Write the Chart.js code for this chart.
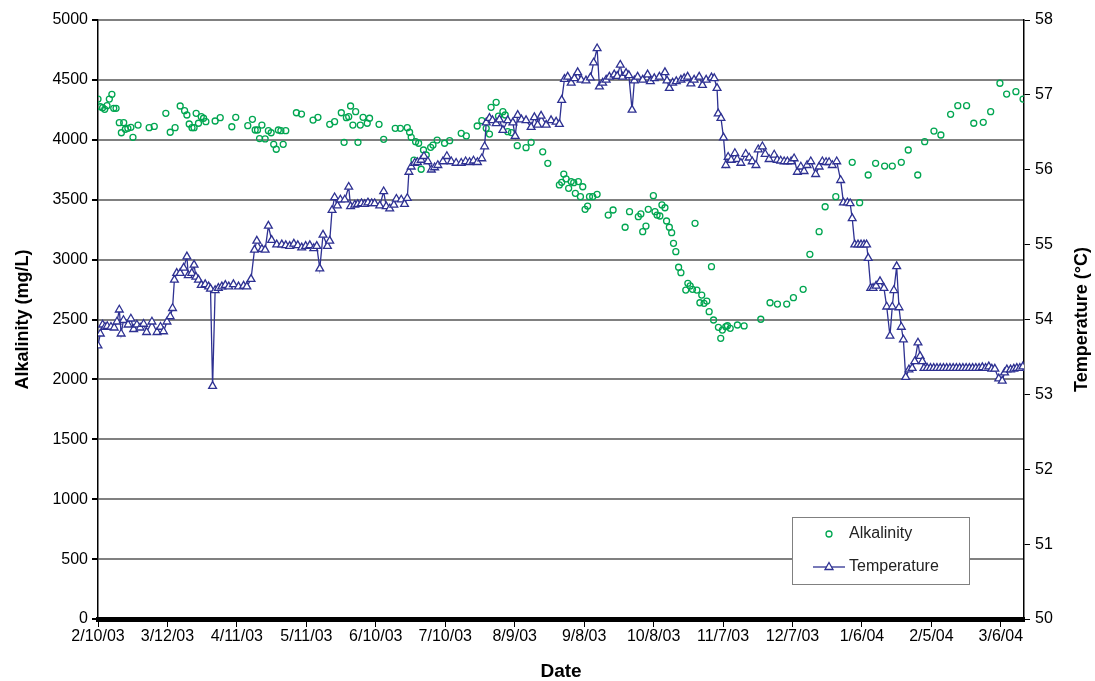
<!DOCTYPE html>
<html>
<head>
<meta charset="utf-8">
<script src="https://cdn.jsdelivr.net/npm/chart.js@4.4.1/dist/chart.umd.min.js"></script>
<style>
  body { margin: 0; background: #fff; }
</style>
</head>
<body>
<canvas id="chart" width="1095" height="681"></canvas>
<script>
// days counted from 2/10/03
var startDate = new Date(2003, 1, 10);

var alkDays = [
  0, 1, 2, 2.9, 3.9, 4.9, 6, 6.8, 7.8, 9.2,
  10.1, 11.1, 11.8, 12.9, 14.2, 15.1, 17.3, 22.1, 24.3, 29.3,
  31.2, 33.3, 35.5, 37.4, 38.4, 39.4, 40.6, 41.5, 42.4, 43.4,
  44.6, 45.6, 46.6, 50.6, 52.8, 57.8, 59.5, 64.7, 66.7, 67.9,
  68.9, 69.8, 70.8, 72.2, 73.6, 74.8, 75.9, 77, 77.9, 79,
  80, 81.1, 85.7, 87.9, 92.9, 95, 100.1, 102.2, 105.1, 106.3,
  107.3, 108.3, 109.1, 110.1, 111.3, 112.3, 113.3, 114.5, 116.3, 117.3,
  121.4, 123.4, 128.4, 130.6, 133.6, 134.6, 135.3, 136.5, 137.2, 138.5,
  139.6, 140.6, 141.8, 143.7, 144.7, 146.5, 149.7, 151.9, 156.9, 159.1,
  163.8, 165.8, 167.7, 169.1, 169.8, 172, 173, 174.9, 175.9, 177,
  178.6, 181.1, 184.9, 187.1, 192.1, 194.3, 199.3, 200.3, 201.2, 202.2,
  203.3, 204.4, 205.5, 206.2, 207.5, 208.4, 209.4, 210.4, 211.5, 212.3,
  213.7, 215.6, 220.4, 222.5, 227.7, 229.6, 233.4, 234.5, 235.3, 236.7,
  237.7, 239.9, 240.6, 241.5, 242.7, 243.6, 244.9, 245.6, 246.8, 247.8,
  248.6, 249.6, 250.8, 251.8, 253.9, 254.8, 255.8, 256.8, 257.9, 258.7,
  260, 260.8, 261.8, 263, 264, 265, 265.9, 268, 269, 269.7,
  271.2, 271.9, 273.1, 276.2, 279.1, 286.3, 290.3, 293.5, 297.5, 300.4,
  304.6, 307.5, 311.5, 314.1, 318.7, 325.8, 329, 332.7, 335.9, 339.8,
  343.1, 347, 350, 354.1, 357.1, 361.1, 364.1, 368.3, 371.4, 375.2,
  378.3, 382.4, 385.6, 389.6, 392.5, 396.5, 399.6
];
var alkValues = [
  4340, 4276, 4268, 4254, 4285, 4340, 4380, 4263, 4263, 4143,
  4059, 4143, 4088, 4096, 4104, 4021, 4123, 4101, 4112, 4221,
  4063, 4101, 4282, 4243, 4207, 4132, 4101, 4101, 4221, 4138,
  4193, 4180, 4151, 4157, 4185, 4109, 4188, 4118, 4171, 4082,
  4082, 4010, 4123, 4007, 4076, 4059, 3962, 3921, 4082, 4076,
  3962, 4076, 4226, 4215, 4165, 4188, 4129, 4151, 4226, 3979,
  4185, 4193, 4282, 4123, 4235, 3979, 4123, 4188, 4138, 4180,
  4129, 4004, 4096, 4096, 4101, 4063, 4021, 3831, 3984, 3971,
  3754, 3915, 3873, 3937, 3956, 3998, 3971, 3993, 4054, 4032,
  4115, 4160, 4096, 4048, 4271, 4313, 4198, 4235, 4207, 4068,
  4060, 3951, 3934, 3979, 3900, 3804, 3623, 3645, 3714, 3673,
  3595, 3651, 3642, 3553, 3651, 3525, 3608, 3420, 3447, 3525,
  3525, 3545, 3372, 3414, 3270, 3400, 3358, 3381, 3233, 3280,
  3420, 3534, 3400, 3372, 3364, 3456, 3433, 3322, 3270, 3225,
  3136, 3066, 2936, 2891, 2746, 2802, 2780, 2752, 3303, 2746,
  2640, 2704, 2635, 2654, 2565, 2941, 2496, 2435, 2343, 2412,
  2440, 2448, 2426, 2454, 2446, 2502, 2640, 2629, 2629, 2682,
  2752, 3044, 3233, 3441, 3525, 3812, 3475, 3706, 3804, 3781,
  3781, 3812, 3915, 3706, 3984, 4073, 4040, 4213, 4285, 4285,
  4138, 4146, 4235, 4472, 4382, 4402, 4340
];

var tempDays = [
  0, 1, 2, 3, 4, 5.6, 7, 8.2, 9.2, 10,
  11, 13, 14.2, 15.4, 16.8, 18.2, 19.7, 21, 23.3, 25.5,
  27, 28.3, 29.8, 31.2, 32.2, 33, 34, 35.5, 37, 38.4,
  39, 40.5, 41.5, 42.3, 43.4, 44.6, 46.3, 47.8, 48.6, 49.5,
  50.6, 52, 53.5, 55, 56.5, 58.5, 60.7, 62.9, 64.3, 66.1,
  67.6, 68.6, 70.8, 72.2, 73.6, 75, 77.2, 79.4, 81.1, 82.8,
  84.6, 86.3, 88, 89.7, 91.5, 93.2, 94.5, 95.8, 97.2, 99.1,
  100.1, 101.1, 102.2, 103.4, 104.7, 106.6, 108.3, 109.1, 110.9, 112.2,
  113.8, 115.2, 116.6, 118.2, 119.5, 121.7, 123.4, 124.5, 126, 127.8,
  128.9, 131, 132.4, 133.6, 134.3, 135.3, 136.8, 138, 139.6, 140.8,
  142.5, 144, 145.4, 146.8, 149, 150.7, 152.6, 154.7, 156.9, 158.8,
  160.5, 162.2, 163.9, 165.8, 167, 167.7, 169.1, 170.4, 172, 173.4,
  174.9, 177, 179.2, 180.2, 181.3, 182.9, 184.9, 187.1, 188.5, 189.9,
  191.4, 193.6, 195.7, 197.9, 199.3, 200.3, 201.5, 202.9, 204.4, 205.8,
  207.2, 208.7, 210.8, 212.7, 214.1, 215.6, 216.6, 218, 219.5, 220.9,
  223, 224.3, 225.6, 226.6, 228.1, 229.3, 230.7, 231.7, 233.1, 235.3,
  237.4, 238.6, 240.3, 242.5, 244.9, 245.8, 246.8, 248.2, 249.8, 251.8,
  253.2, 254.7, 256.1, 257.5, 259.7, 261.1, 262.7, 265, 266.2, 267.4,
  267.9, 269.1, 270.2, 271.2, 272.2, 273.5, 275.1, 276.1, 277.7, 279.8,
  281.3, 282.6, 284.2, 285.2, 287, 288.2, 289.9, 292.1, 293.4, 294.9,
  296.4, 297.8, 299.4, 300.7, 302.1, 303.6, 305, 306.3, 307.9, 310,
  311.5, 312.9, 314.5, 315.8, 317.2, 319.1, 320.8, 322, 323.7, 324.9,
  325.8, 326.9, 328.3, 329.6, 330.9, 332, 332.7, 333.8, 334.8, 336.1,
  337.8, 339.5, 340.7, 342.1, 343.1, 343.8, 345, 346, 347, 347.9,
  348.9, 350.3, 351.7, 352.8, 354.2, 355.1, 356.1, 356.8, 358.2, 359.6,
  361, 362.4, 363.8, 365.2, 366.6, 368, 369.4, 370.8, 372.2, 373.6,
  375, 376.4, 377.8, 379.2, 380.6, 382, 383.4, 384.8, 386.1, 387.4,
  389.1, 390.6, 391.6, 392.6, 394.2, 395.6, 396.9, 398.2, 399.5
];
var tempValues = [
  53.65, 53.81, 53.93, 53.90, 53.91, 53.90, 53.89, 53.97, 54.13, 53.81,
  53.99, 53.93, 54.01, 53.87, 53.93, 53.89, 53.94, 53.83, 53.97, 53.83,
  53.90, 53.84, 53.97, 54.04, 54.15, 54.53, 54.62, 54.62, 54.69, 54.84,
  54.59, 54.62, 54.73, 54.57, 54.53, 54.46, 54.47, 54.44, 54.41, 53.11,
  54.39, 54.42, 54.44, 54.46, 54.44, 54.47, 54.44, 54.45, 54.44, 54.54,
  54.93, 55.05, 54.94, 54.93, 55.25, 55.06, 55.00, 55.00, 54.99, 54.98,
  55.01, 54.99, 54.96, 54.98, 54.99, 54.95, 54.98, 54.68, 55.13, 54.98,
  55.05, 55.46, 55.63, 55.52, 55.60, 55.60, 55.77, 55.51, 55.53, 55.54,
  55.55, 55.54, 55.56, 55.55, 55.55, 55.52, 55.71, 55.51, 55.48, 55.53,
  55.61, 55.60, 55.54, 55.62, 55.97, 56.04, 56.09, 56.10, 56.13, 56.18,
  56.11, 56.00, 56.03, 56.06, 56.11, 56.18, 56.11, 56.09, 56.09, 56.11,
  56.10, 56.12, 56.10, 56.15, 56.31, 56.63, 56.69, 56.66, 56.62, 56.67,
  56.53, 56.66, 56.63, 56.45, 56.73, 56.67, 56.66, 56.57, 56.70, 56.60,
  56.72, 56.60, 56.66, 56.64, 56.61, 56.93, 57.21, 57.24, 57.16, 57.22,
  57.30, 57.20, 57.19, 57.23, 57.43, 57.62, 57.11, 57.16, 57.20, 57.24,
  57.27, 57.25, 57.40, 57.24, 57.29, 57.26, 56.80, 57.19, 57.24, 57.20,
  57.27, 57.18, 57.22, 57.24, 57.30, 57.19, 57.09, 57.16, 57.18, 57.20,
  57.22, 57.24, 57.15, 57.20, 57.24, 57.13, 57.20, 57.23, 57.22, 57.09,
  56.75, 56.69, 56.43, 56.06, 56.17, 56.13, 56.22, 56.14, 56.09, 56.21,
  56.16, 56.11, 56.06, 56.27, 56.31, 56.21, 56.14, 56.20, 56.13, 56.12,
  56.11, 56.11, 56.11, 56.15, 55.97, 56.04, 55.98, 56.06, 56.11, 55.94,
  56.04, 56.11, 56.10, 56.10, 56.06, 56.11, 55.86, 55.56, 55.56, 55.55,
  55.35, 55.00, 55.00, 55.00, 55.00, 55.00, 54.82, 54.42, 54.42, 54.45,
  54.51, 54.42, 54.17, 53.78, 54.17, 54.39, 54.71, 54.16, 53.90, 53.73,
  53.23, 53.33, 53.35, 53.44, 53.69, 53.51, 53.44, 53.35, 53.35, 53.35,
  53.35, 53.35, 53.35, 53.35, 53.35, 53.35, 53.35, 53.35, 53.35, 53.35,
  53.35, 53.35, 53.35, 53.35, 53.35, 53.36, 53.35, 53.37, 53.34, 53.34,
  53.21, 53.18, 53.29, 53.33, 53.33, 53.34, 53.35, 53.35, 53.37
];

var green = '#00a651';
var navy = '#2e3192';

function toPoints(xs, ys) {
  return xs.map(function(x, i) { return { x: x, y: ys[i] }; });
}

function dateLabel(v) {
  var d = new Date(startDate.getTime());
  d.setDate(d.getDate() + v);
  return (d.getMonth() + 1) + '/' + d.getDate() + '/' + String(d.getFullYear()).slice(2);
}

Chart.defaults.font.family = "'Liberation Sans', Arial, sans-serif";
Chart.defaults.font.size = 16;
Chart.defaults.color = '#000';

// right axis title reads bottom-to-top in the original, draw it by hand
var rightTitle = {
  id: 'rightTitle',
  afterDraw: function(chart) {
    var ctx = chart.ctx, a = chart.chartArea;
    ctx.save();
    ctx.translate(chart.width - 13, (a.top + a.bottom) / 2);
    ctx.rotate(-Math.PI / 2);
    ctx.font = "bold 18px 'Liberation Sans', Arial, sans-serif";
    ctx.fillStyle = '#000';
    ctx.textAlign = 'center';
    ctx.textBaseline = 'middle';
    ctx.fillText('Temperature (\u00b0C)', 0, 0);
    ctx.restore();
  }
};

var boxLegend = {
  id: 'boxLegend',
  afterDraw: function(chart) {
    var ctx = chart.ctx, a = chart.chartArea;
    var x = a.right - 232, y = a.bottom - 102, w = 177, h = 67;
    ctx.save();
    ctx.fillStyle = '#fff';
    ctx.fillRect(x, y, w, h);
    ctx.strokeStyle = '#808080';
    ctx.lineWidth = 1;
    ctx.strokeRect(x + 0.5, y + 0.5, w, h);

    ctx.font = "16px 'Liberation Sans', Arial, sans-serif";
    ctx.fillStyle = '#222';
    ctx.textBaseline = 'middle';

    // alkalinity
    ctx.strokeStyle = green;
    ctx.lineWidth = 1.3;
    ctx.beginPath();
    ctx.arc(x + 37, y + 17, 3, 0, Math.PI * 2);
    ctx.stroke();
    ctx.fillText('Alkalinity', x + 57, y + 17);

    // temperature
    ctx.strokeStyle = navy;
    ctx.beginPath();
    ctx.moveTo(x + 21, y + 50);
    ctx.lineTo(x + 53, y + 50);
    ctx.stroke();
    ctx.fillStyle = '#fff';
    ctx.beginPath();
    ctx.moveTo(x + 37, y + 45.5);
    ctx.lineTo(x + 41, y + 52.5);
    ctx.lineTo(x + 33, y + 52.5);
    ctx.closePath();
    ctx.fill();
    ctx.stroke();
    ctx.fillStyle = '#222';
    ctx.fillText('Temperature', x + 57, y + 50);
    ctx.restore();
  }
};

var ctx = document.getElementById('chart');
var myChart = new Chart(ctx, {
  type: 'line',
  data: {
    datasets: [{
      label: 'Alkalinity',
      data: toPoints(alkDays, alkValues),
      yAxisID: 'yAlk',
      showLine: false,
      pointStyle: 'circle',
      pointRadius: 3,
      pointBorderWidth: 1.3,
      pointBorderColor: green,
      pointBackgroundColor: 'rgba(255,255,255,0)',
      borderColor: green,
      order: 1
    }, {
      label: 'Temperature',
      data: toPoints(tempDays, tempValues),
      yAxisID: 'yTemp',
      borderColor: navy,
      borderWidth: 1.3,
      tension: 0,
      pointStyle: 'triangle',
      pointRadius: 4.5,
      pointBorderWidth: 1.3,
      pointBorderColor: navy,
      pointBackgroundColor: '#fff',
      order: 0
    }]
  },
  options: {
    responsive: false,
    animation: false,
    devicePixelRatio: 1,
    layout: { padding: { top: 20, left: 0, right: 0, bottom: 0 } },
    plugins: {
      legend: { display: false },
      tooltip: { enabled: false }
    },
    scales: {
      x: {
        type: 'linear',
        min: 0,
        max: 400,
        afterFit: function(s) { s.height = 62; },
        grid: { drawOnChartArea: false, drawTicks: true, tickLength: 8, tickColor: '#000', lineWidth: 1 },
        border: { display: true, color: '#000', width: 5 },
        ticks: {
          stepSize: 30,
          includeBounds: false,
          autoSkip: false,
          maxRotation: 0,
          padding: 0,
          callback: function(v) { return dateLabel(v); }
        },
        title: {
          display: true,
          text: 'Date',
          font: { size: 19, weight: 'bold', lineHeight: 1 },
          padding: { top: 0, bottom: 0 }
        }
      },
      yAlk: {
        type: 'linear',
        position: 'left',
        min: 0,
        max: 5000,
        afterFit: function(s) { s.width = 98; },
        grid: { color: '#808080', lineWidth: 2, tickColor: '#000', tickLength: 6 },
        border: { display: true, color: '#000', width: 1.5 },
        ticks: { stepSize: 500, padding: 4, callback: function(v) { return String(v); } },
        title: {
          display: true,
          text: 'Alkalinity (mg/L)',
          font: { size: 18, weight: 'bold' },
          padding: { top: 12, bottom: 0 }
        }
      },
      yTemp: {
        type: 'linear',
        position: 'right',
        min: 50,
        max: 58,
        afterFit: function(s) { s.width = 71; },
        grid: { drawOnChartArea: false, tickColor: '#000', tickLength: 6 },
        border: { display: true, color: '#000', width: 1.5 },
        ticks: { stepSize: 1, padding: 5, callback: function(v) { return String(v); } }
      }
    }
  },
  plugins: [rightTitle, boxLegend]
});
</script>
</body>
</html>
